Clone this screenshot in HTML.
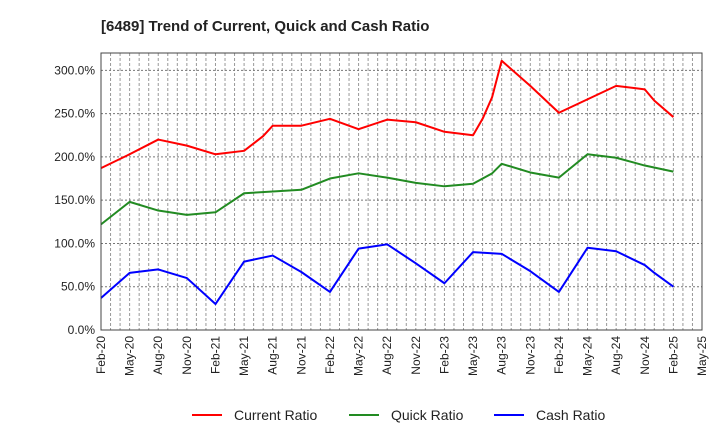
<!DOCTYPE html>
<html><head><meta charset="utf-8"><style>
body{margin:0;background:#fff}
svg{display:block;font-family:"Liberation Sans",Arial,sans-serif}
</style></head><body>
<svg id="chart" width="720" height="440" viewBox="0 0 720 440" xmlns="http://www.w3.org/2000/svg">
<text x="101" y="31" font-size="15" font-weight="bold" fill="#222">[6489]  Trend of Current, Quick and Cash Ratio</text>
<g id="grid"></g>
<g id="yaxis"></g>
<g id="xaxis"></g>
<g id="series"></g>
<rect x="101" y="53" width="601" height="277" fill="none" stroke="#444" stroke-width="1"/>
<g>
<g><line x1="192" y1="415" x2="222" y2="415" stroke="#ff0000" stroke-width="2"/><text x="234" y="420" font-size="14" fill="#222">Current Ratio</text></g>
<g><line x1="349" y1="415" x2="379" y2="415" stroke="#228b22" stroke-width="2"/><text x="391" y="420" font-size="14" fill="#222">Quick Ratio</text></g>
<g><line x1="494" y1="415" x2="524" y2="415" stroke="#0000ff" stroke-width="2"/><text x="536" y="420" font-size="14" fill="#222">Cash Ratio</text></g>
</g>
</svg>
<script>
const xTickLabels = ["Feb-20","May-20","Aug-20","Nov-20","Feb-21","May-21","Aug-21","Nov-21","Feb-22","May-22","Aug-22","Nov-22","Feb-23","May-23","Aug-23","Nov-23","Feb-24","May-24","Aug-24","Nov-24","Feb-25","May-25"];
const yTicks = [0,50,100,150,200,250,300];
const currentMonths = [0,3,6,9,12,15,17,18,21,24,27,30,33,36,39,40,41,42,45,48,54,57,58,60];
const currentValues = [187,203,220,213,203,207,224,236,236,244,232,243,240,229,225,244,269,311,282,251,282,278,265,246];
const quickMonths = [0,3,6,9,12,15,18,21,24,27,30,33,36,39,41,42,45,48,51,54,57,60];
const quickValues = [122,148,138,133,136,158,160,162,175,181,176,170,166,169,181,192,182,176,203,199,190,183];
const cashMonths = [0,3,6,9,12,15,18,21,24,27,30,33,36,39,42,45,48,51,54,57,58,60];
const cashValues = [37,66,70,60,30,79,86,67,44,94,99,77,54,90,88,68,44,95,91,75,66,50];

const NS="http://www.w3.org/2000/svg";
const L=101,R=702,T=53,B=330,YMAX=320,MONTHS=63;
const xs=m=>L+m*(R-L)/MONTHS;
const ys=v=>B-v*(B-T)/YMAX;
function mk(tag,attrs,parent){const e=document.createElementNS(NS,tag);for(const k in attrs)e.setAttribute(k,attrs[k]);parent.appendChild(e);return e;}
const grid=document.getElementById('grid'),ya=document.getElementById('yaxis'),xa=document.getElementById('xaxis'),sg=document.getElementById('series');
for(let m=1;m<MONTHS;m++){
  const l=mk('line',{x1:xs(m),x2:xs(m),y1:T,y2:B,stroke:'#999','stroke-width':1,'stroke-dasharray':'3,2'},grid);
  
  
}
yTicks.forEach(v=>{
  if(v>0){const g=mk('line',{x1:L,x2:R,y1:ys(v),y2:ys(v),stroke:'#777','stroke-width':1,'stroke-dasharray':'2,2'},grid);
  
  }
  const t=mk('text',{x:L-6,y:ys(v)+4,'text-anchor':'end','font-size':12,fill:'#222'},ya);
  t.textContent=v.toFixed(1)+'%';
  
  
});
xTickLabels.forEach((s,i)=>{
  const x=xs(i*3);
  const t=mk('text',{x:x+4,y:B+6,'text-anchor':'end','font-size':12,fill:'#222',transform:`rotate(-90 ${x+4} ${B+6})`},xa);
  t.textContent=s;
  
  
});
function line(ms,vs,color,name){
  const p=mk('polyline',{points:ms.map((m,i)=>xs(m)+','+ys(vs[i])).join(' '),fill:'none',stroke:color,'stroke-width':2,'stroke-linejoin':'round'},sg);
  
  
}
line(currentMonths,currentValues,'#ff0000','current-ratio-line');
line(quickMonths,quickValues,'#228b22','quick-ratio-line');
line(cashMonths,cashValues,'#0000ff','cash-ratio-line');
</script>
</body></html>
